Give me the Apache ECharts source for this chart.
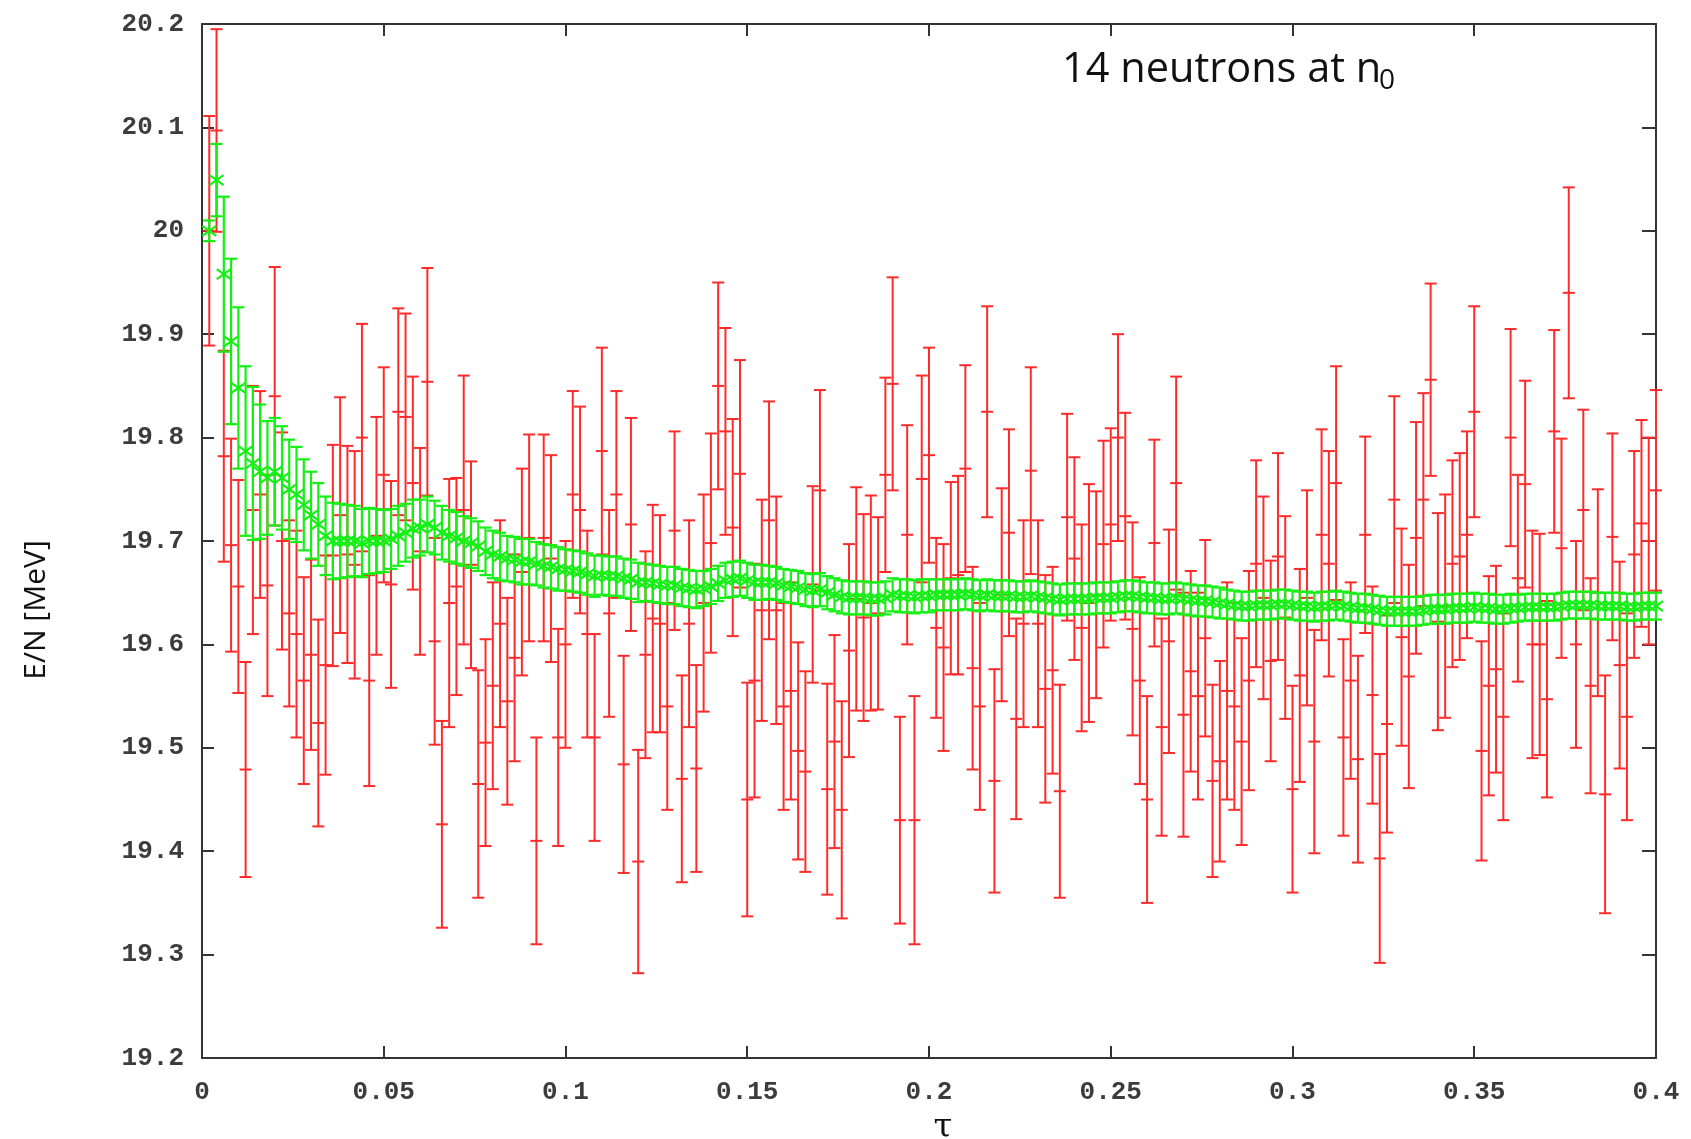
<!DOCTYPE html>
<html><head><meta charset="utf-8">
<script src="https://cdn.jsdelivr.net/npm/echarts@6/dist/echarts.min.js"></script>
<style>html,body{margin:0;padding:0;background:#fff}#c{width:1691px;height:1139px}</style>
</head><body><div id="c"></div>
<script>
// imaginary time tau (x)
const tau = [
0.002,0.004,0.006,0.008,0.010,0.012,0.014,0.016,0.018,0.020,
0.022,0.024,0.026,0.028,0.030,0.032,0.034,0.036,0.038,0.040,
0.042,0.044,0.046,0.048,0.050,0.052,0.054,0.056,0.058,0.060,
0.062,0.064,0.066,0.068,0.070,0.072,0.074,0.076,0.078,0.080,
0.082,0.084,0.086,0.088,0.090,0.092,0.094,0.096,0.098,0.100,
0.102,0.104,0.106,0.108,0.110,0.112,0.114,0.116,0.118,0.120,
0.122,0.124,0.126,0.128,0.130,0.132,0.134,0.136,0.138,0.140,
0.142,0.144,0.146,0.148,0.150,0.152,0.154,0.156,0.158,0.160,
0.162,0.164,0.166,0.168,0.170,0.172,0.174,0.176,0.178,0.180,
0.182,0.184,0.186,0.188,0.190,0.192,0.194,0.196,0.198,0.200,
0.202,0.204,0.206,0.208,0.210,0.212,0.214,0.216,0.218,0.220,
0.222,0.224,0.226,0.228,0.230,0.232,0.234,0.236,0.238,0.240,
0.242,0.244,0.246,0.248,0.250,0.252,0.254,0.256,0.258,0.260,
0.262,0.264,0.266,0.268,0.270,0.272,0.274,0.276,0.278,0.280,
0.282,0.284,0.286,0.288,0.290,0.292,0.294,0.296,0.298,0.300,
0.302,0.304,0.306,0.308,0.310,0.312,0.314,0.316,0.318,0.320,
0.322,0.324,0.326,0.328,0.330,0.332,0.334,0.336,0.338,0.340,
0.342,0.344,0.346,0.348,0.350,0.352,0.354,0.356,0.358,0.360,
0.362,0.364,0.366,0.368,0.370,0.372,0.374,0.376,0.378,0.380,
0.382,0.384,0.386,0.388,0.390,0.392,0.394,0.396,0.398,0.400];

// single-step energies E/N (red) and their errors
const redVal = [
20.000,20.097,19.782,19.696,19.656,19.479,19.730,19.745,19.657,19.840,
19.700,19.630,19.610,19.565,19.590,19.524,19.580,19.686,19.725,19.687,
19.677,19.800,19.565,19.705,19.764,19.658,19.825,19.820,19.756,19.690,
19.854,19.603,19.426,19.640,19.656,19.730,19.677,19.465,19.505,19.560,
19.620,19.545,19.587,19.670,19.703,19.410,19.703,19.683,19.510,19.600,
19.745,19.730,19.610,19.510,19.787,19.630,19.745,19.484,19.716,19.390,
19.590,19.625,19.620,19.540,19.710,19.470,19.620,19.480,19.640,19.698,
19.850,19.806,19.713,19.765,19.450,19.565,19.633,19.720,19.633,19.540,
19.555,19.497,19.477,19.658,19.749,19.460,19.506,19.440,19.594,19.644,
19.626,19.640,19.630,19.764,19.852,19.430,19.706,19.430,19.760,19.783,
19.616,19.597,19.664,19.667,19.770,19.577,19.540,19.825,19.468,19.648,
19.708,19.528,19.620,19.768,19.620,19.557,19.575,19.458,19.723,19.683,
19.616,19.640,19.648,19.697,19.716,19.800,19.724,19.615,19.565,19.450,
19.698,19.520,19.603,19.756,19.532,19.574,19.550,19.606,19.468,19.487,
19.555,19.540,19.506,19.565,19.678,19.645,19.584,19.685,19.626,19.460,
19.570,19.645,19.506,19.706,19.678,19.756,19.510,19.565,19.489,19.706,
19.551,19.393,19.523,19.740,19.607,19.569,19.703,19.740,19.856,19.622,
19.637,19.678,19.685,19.706,19.825,19.497,19.560,19.576,19.530,19.800,
19.664,19.755,19.600,19.600,19.547,19.806,19.693,19.940,19.600,19.730,
19.560,19.650,19.455,19.704,19.580,19.530,19.687,19.717,19.700,19.749];
const redErr = [
0.111,0.098,0.102,0.103,0.103,0.104,0.120,0.100,0.107,0.125,
0.105,0.090,0.100,0.100,0.092,0.100,0.106,0.107,0.114,0.105,
0.110,0.110,0.102,0.115,0.104,0.100,0.100,0.100,0.103,0.100,
0.110,0.100,0.100,0.120,0.105,0.130,0.100,0.110,0.100,0.100,
0.100,0.100,0.100,0.100,0.100,0.100,0.100,0.100,0.105,0.100,
0.100,0.100,0.100,0.100,0.100,0.100,0.100,0.105,0.103,0.108,
0.100,0.110,0.105,0.100,0.096,0.100,0.100,0.100,0.105,0.106,
0.100,0.100,0.105,0.110,0.113,0.113,0.107,0.115,0.110,0.100,
0.105,0.105,0.097,0.095,0.097,0.102,0.103,0.105,0.103,0.108,
0.100,0.104,0.093,0.094,0.103,0.100,0.106,0.120,0.100,0.104,
0.087,0.100,0.093,0.096,0.100,0.098,0.100,0.102,0.108,0.103,
0.100,0.097,0.100,0.100,0.100,0.110,0.100,0.103,0.100,0.098,
0.100,0.115,0.100,0.100,0.093,0.100,0.100,0.103,0.100,0.100,
0.100,0.105,0.108,0.103,0.118,0.097,0.100,0.095,0.093,0.097,
0.105,0.100,0.100,0.106,0.100,0.098,0.097,0.100,0.098,0.100,
0.103,0.104,0.108,0.102,0.109,0.113,0.095,0.095,0.100,0.095,
0.105,0.101,0.105,0.100,0.105,0.108,0.112,0.103,0.093,0.105,
0.108,0.100,0.100,0.100,0.102,0.106,0.106,0.100,0.100,0.105,
0.100,0.100,0.110,0.107,0.095,0.098,0.106,0.102,0.100,0.097,
0.104,0.100,0.115,0.100,0.100,0.100,0.100,0.100,0.100,0.097];

// running average E/N (green) and its errors
const greenVal = [
20.000,20.049,19.958,19.893,19.848,19.787,19.775,19.767,19.761,19.767,
19.761,19.750,19.745,19.735,19.725,19.716,19.705,19.700,19.700,19.700,
19.700,19.698,19.700,19.700,19.700,19.702,19.705,19.708,19.712,19.713,
19.716,19.713,19.708,19.705,19.703,19.700,19.698,19.695,19.690,19.687,
19.685,19.683,19.682,19.680,19.680,19.678,19.676,19.675,19.673,19.672,
19.671,19.670,19.668,19.666,19.667,19.666,19.666,19.664,19.663,19.660,
19.660,19.659,19.658,19.657,19.657,19.655,19.654,19.653,19.654,19.656,
19.659,19.662,19.663,19.664,19.662,19.660,19.660,19.660,19.659,19.657,
19.656,19.655,19.653,19.652,19.653,19.650,19.648,19.646,19.645,19.645,
19.645,19.644,19.644,19.645,19.648,19.647,19.647,19.646,19.647,19.647,
19.648,19.648,19.648,19.648,19.649,19.648,19.647,19.648,19.647,19.647,
19.647,19.646,19.646,19.647,19.646,19.645,19.644,19.643,19.644,19.644,
19.644,19.644,19.645,19.645,19.645,19.646,19.647,19.647,19.646,19.645,
19.645,19.644,19.644,19.645,19.644,19.643,19.642,19.642,19.641,19.640,
19.639,19.638,19.637,19.637,19.638,19.638,19.638,19.639,19.639,19.638,
19.637,19.637,19.636,19.637,19.637,19.638,19.637,19.636,19.635,19.635,
19.634,19.633,19.632,19.632,19.632,19.632,19.632,19.633,19.634,19.634,
19.634,19.635,19.635,19.635,19.636,19.635,19.635,19.634,19.634,19.635,
19.635,19.636,19.636,19.636,19.636,19.636,19.637,19.638,19.638,19.638,
19.638,19.637,19.637,19.637,19.637,19.636,19.636,19.637,19.637,19.637];
const greenErr = [
0.010,0.035,0.075,0.080,0.078,0.082,0.074,0.065,0.055,0.052,
0.050,0.048,0.046,0.044,0.042,0.040,0.038,0.037,0.036,0.035,
0.034,0.033,0.032,0.031,0.030,0.029,0.029,0.028,0.028,0.027,
0.027,0.026,0.026,0.025,0.025,0.024,0.024,0.024,0.023,0.023,
0.023,0.022,0.022,0.022,0.022,0.021,0.021,0.021,0.021,0.020,
0.020,0.020,0.020,0.020,0.019,0.019,0.019,0.019,0.019,0.019,
0.018,0.018,0.018,0.018,0.018,0.018,0.018,0.018,0.017,0.017,
0.017,0.017,0.017,0.017,0.017,0.017,0.017,0.016,0.016,0.016,
0.016,0.016,0.016,0.016,0.016,0.016,0.016,0.016,0.016,0.016,
0.016,0.016,0.016,0.016,0.016,0.016,0.016,0.016,0.016,0.016,
0.015,0.015,0.015,0.015,0.015,0.015,0.015,0.015,0.015,0.015,
0.015,0.015,0.015,0.015,0.015,0.015,0.015,0.015,0.015,0.015,
0.015,0.015,0.015,0.015,0.015,0.015,0.015,0.015,0.015,0.015,
0.015,0.015,0.015,0.015,0.015,0.015,0.015,0.015,0.015,0.015,
0.014,0.014,0.014,0.014,0.014,0.014,0.014,0.014,0.014,0.014,
0.014,0.014,0.014,0.014,0.014,0.014,0.014,0.014,0.014,0.014,
0.014,0.014,0.014,0.014,0.014,0.014,0.014,0.014,0.014,0.014,
0.014,0.014,0.014,0.014,0.014,0.014,0.014,0.014,0.014,0.014,
0.013,0.013,0.013,0.013,0.013,0.013,0.013,0.013,0.013,0.013,
0.013,0.013,0.013,0.013,0.013,0.013,0.013,0.013,0.013,0.013];

const xTickLabels = ['0','0.05','0.1','0.15','0.2','0.25','0.3','0.35','0.4'];

const redData = tau.map((t, i) => [t, redVal[i], redErr[i]]);
const greenData = tau.map((t, i) => [t, greenVal[i], greenErr[i]]);

function errRender(color, marker, lw) {
  return function (params, api) {
    const x = api.value(0), y = api.value(1), e = api.value(2);
    const c = api.coord([x, y]);
    const t = api.coord([x, y + e]);
    const b = api.coord([x, y - e]);
    const w = 6;
    const st = { stroke: color, lineWidth: lw, fill: null };
    const ch = [
      { type: 'line', shape: { x1: c[0], y1: t[1], x2: c[0], y2: b[1] }, style: st },
      { type: 'line', shape: { x1: c[0] - w, y1: t[1], x2: c[0] + w, y2: t[1] }, style: st },
      { type: 'line', shape: { x1: c[0] - w, y1: b[1], x2: c[0] + w, y2: b[1] }, style: st }
    ];
    if (marker === '+') {
      ch.push({ type: 'line', shape: { x1: c[0] - w, y1: c[1], x2: c[0] + w, y2: c[1] }, style: st });
    } else {
      ch.push({ type: 'line', shape: { x1: c[0] - 7, y1: c[1] - 5, x2: c[0] + 7, y2: c[1] + 5 }, style: st });
      ch.push({ type: 'line', shape: { x1: c[0] - 7, y1: c[1] + 5, x2: c[0] + 7, y2: c[1] - 5 }, style: st });
    }
    return { type: 'group', children: ch };
  };
}

const tickFont = 'Liberation Mono';
const axisColor = '#333';
const lineStyle = { color: axisColor, width: 2 };

const chart = echarts.init(document.getElementById('c'));
chart.setOption({
  animation: false,
  backgroundColor: '#fff',
  grid: { left: 202, right: 35, top: 24, bottom: 81 },
  xAxis: [
    { type: 'value', min: 0, max: 0.4, interval: 0.05, position: 'bottom',
      axisLine: { show: true, onZero: false, lineStyle },
      axisTick: { show: true, inside: true, length: 12, lineStyle },
      splitLine: { show: false },
      axisLabel: { margin: 21, fontFamily: tickFont, fontSize: 26, fontWeight: 'bold', color: '#3c3c3c',
        formatter: (v) => xTickLabels[Math.round(v / 0.05)] } },
    { type: 'value', min: 0, max: 0.4, interval: 0.05, position: 'top',
      axisLine: { show: true, onZero: false, lineStyle },
      axisTick: { show: true, inside: true, length: 12, lineStyle },
      splitLine: { show: false }, axisLabel: { show: false } }
  ],
  yAxis: [
    { type: 'value', min: 19.2, max: 20.2, interval: 0.1, position: 'left',
      axisLine: { show: true, onZero: false, lineStyle },
      axisTick: { show: true, inside: true, length: 12, lineStyle },
      splitLine: { show: false },
      axisLabel: { margin: 18, fontFamily: tickFont, fontSize: 26, fontWeight: 'bold', color: '#3c3c3c',
        formatter: (v) => String(+v.toFixed(1)) } },
    { type: 'value', min: 19.2, max: 20.2, interval: 0.1, position: 'right',
      axisLine: { show: true, onZero: false, lineStyle },
      axisTick: { show: true, inside: true, length: 14, lineStyle },
      splitLine: { show: false }, axisLabel: { show: false } }
  ],
  series: [
    { type: 'custom', name: 'single', xAxisIndex: 0, yAxisIndex: 0, clip: false, silent: true,
      renderItem: errRender('#ff2a2a', '+', 2), encode: { x: 0, y: 1 }, data: redData, z: 2 },
    { type: 'custom', name: 'average', xAxisIndex: 0, yAxisIndex: 0, clip: false, silent: true,
      renderItem: errRender('#14f014', 'x', 2.2), encode: { x: 0, y: 1 }, data: greenData, z: 3 }
  ],
  graphic: [
    { type: 'text', x: 1062, y: 70, style: { text: '14 neutrons at n', fontFamily: 'Open Sans', fontSize: 41.5, fill: '#111', align: 'left', verticalAlign: 'middle' } },
    { type: 'text', x: 1379, y: 81, style: { text: '0', fontFamily: 'Open Sans', fontSize: 28, fill: '#111', align: 'left', verticalAlign: 'middle' } },
    { type: 'text', x: 36, y: 610, rotation: Math.PI / 2, style: { text: 'E/N [MeV]', fontFamily: 'Open Sans', fontSize: 30, fill: '#111', align: 'center', verticalAlign: 'middle' } },
    { type: 'text', x: 943, y: 1128, style: { text: 'τ', fontFamily: 'DejaVu Serif', fontSize: 34, fill: '#111', align: 'center', verticalAlign: 'middle' } }
  ]
});
</script>
</body></html>
